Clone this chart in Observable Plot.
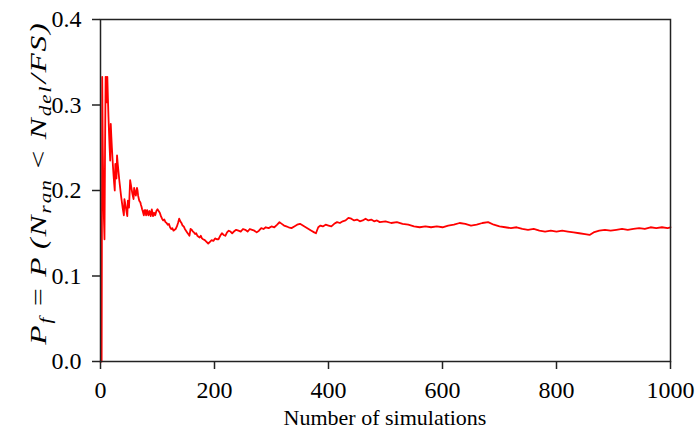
<!DOCTYPE html>
<html>
<head>
<meta charset="utf-8">
<script src="https://cdn.jsdelivr.net/npm/d3@7"></script>
<script src="https://cdn.jsdelivr.net/npm/@observablehq/plot@0.6"></script>
<style>
  html, body { margin: 0; padding: 0; background: #fff; }
</style>
</head>
<body>
<div id="chart"></div>
<script>
// Number of simulations (x) and running failure probability (y)
const nSims = [
  0, 1, 2, 3, 4, 5, 6, 7, 8, 9, 10, 11, 12, 13, 14, 15, 16, 17, 18, 19,
  20, 21, 22, 23, 24, 25, 26, 27, 28, 29, 30, 31, 32, 33, 34, 35, 36, 37, 38, 39,
  40, 41, 42, 43, 44, 45, 46, 47, 48, 49, 50, 51, 52, 53, 54, 55, 56, 57, 58, 59,
  60, 61, 62, 64, 65, 66, 67, 68, 70, 71, 72, 73, 74, 76, 77, 78, 79, 80, 82, 84,
  86, 88, 90, 92, 94, 96, 98, 100, 102, 104, 106, 108, 110, 112, 114, 116, 118, 120, 122, 124,
  126, 128, 130, 132, 134, 136, 138, 140, 142, 144, 146, 148, 150, 152, 154, 156, 158, 160, 162, 164,
  166, 168, 170, 172, 174, 176, 178, 180, 183, 186, 189, 192, 195, 198, 201, 204, 207, 210, 213, 216,
  219, 222, 225, 228, 231, 234, 238, 242, 246, 250, 254, 258, 262, 266, 270, 274, 278, 282, 286, 290,
  295, 300, 305, 310, 314, 318, 322, 326, 330, 335, 340, 345, 350, 355, 360, 365, 370, 375, 378, 382,
  386, 390, 395, 400, 405, 410, 415, 420, 425, 430, 435, 440, 445, 450, 455, 460, 465, 470, 475, 480,
  485, 490, 500, 510, 520, 530, 540, 550, 560, 570, 580, 590, 600, 610, 620, 630, 640, 650, 660, 670,
  680, 690, 700, 710, 720, 730, 740, 750, 760, 770, 780, 790, 800, 810, 820, 830, 840, 850, 858, 865,
  875, 885, 895, 905, 915, 925, 935, 945, 955, 965, 975, 985, 995, 1000
];
const pf = [
  0, 0, 0, 0.333, 0.25, 0.2, 0.167, 0.143, 0.25, 0.333, 0.333, 0.303, 0.333, 0.308, 0.286, 0.267, 0.25, 0.235, 0.278, 0.263,
  0.25, 0.238, 0.227, 0.217, 0.208, 0.2, 0.231, 0.222, 0.214, 0.241, 0.233, 0.226, 0.219, 0.212, 0.206, 0.2, 0.194, 0.189, 0.184, 0.179,
  0.175, 0.171, 0.19, 0.186, 0.182, 0.178, 0.174, 0.17, 0.188, 0.184, 0.18, 0.196, 0.212, 0.208, 0.204, 0.2, 0.196, 0.193, 0.19, 0.203,
  0.2, 0.197, 0.194, 0.203, 0.2, 0.194, 0.191, 0.188, 0.186, 0.183, 0.181, 0.178, 0.176, 0.171, 0.177, 0.173, 0.177, 0.171, 0.177, 0.171,
  0.176, 0.17, 0.178, 0.17, 0.174, 0.171, 0.176, 0.178, 0.176, 0.174, 0.17, 0.167, 0.165, 0.166, 0.163, 0.162, 0.16, 0.161, 0.157, 0.155,
  0.156, 0.153, 0.154, 0.155, 0.158, 0.162, 0.167, 0.164, 0.162, 0.159, 0.158, 0.155, 0.153, 0.151, 0.149, 0.147, 0.155, 0.154, 0.152, 0.151,
  0.149, 0.15, 0.147, 0.146, 0.145, 0.147, 0.144, 0.143, 0.142, 0.14, 0.138, 0.14, 0.142, 0.141, 0.144, 0.143, 0.143, 0.147, 0.15, 0.148,
  0.147, 0.151, 0.153, 0.152, 0.15, 0.152, 0.154, 0.153, 0.152, 0.155, 0.154, 0.152, 0.155, 0.154, 0.153, 0.151, 0.153, 0.156, 0.155, 0.157,
  0.156, 0.158, 0.157, 0.16, 0.163, 0.161, 0.159, 0.158, 0.157, 0.156, 0.158, 0.16, 0.161, 0.159, 0.157, 0.155, 0.153, 0.151, 0.15, 0.157,
  0.159, 0.158, 0.16, 0.159, 0.158, 0.161, 0.163, 0.162, 0.164, 0.165, 0.168, 0.167, 0.165, 0.166, 0.164, 0.165, 0.167, 0.165, 0.166, 0.164,
  0.165, 0.163, 0.164, 0.162, 0.163, 0.161, 0.16, 0.158, 0.157, 0.158, 0.157, 0.158, 0.157, 0.159, 0.16, 0.162, 0.161, 0.159, 0.16, 0.162,
  0.163, 0.16, 0.158, 0.157, 0.156, 0.157, 0.155, 0.154, 0.155, 0.153, 0.152, 0.153, 0.152, 0.153, 0.152, 0.151, 0.15, 0.149, 0.148, 0.151,
  0.153, 0.154, 0.153, 0.154, 0.155, 0.154, 0.155, 0.156, 0.155, 0.157, 0.156, 0.157, 0.156, 0.157
];
const xTicks = [0, 200, 400, 600, 800, 1000];
const yTicks = [0.0, 0.1, 0.2, 0.3, 0.4];
const xLabel = "Number of simulations";

const data = nSims.map((n, i) => ({n, p: pf[i]}));

const FONT = "'Liberation Serif', 'Times New Roman', serif";
const AXIS = "#222";

const svg = Plot.plot({
  width: 696,
  height: 433,
  marginLeft: 100,
  marginRight: 26,
  marginTop: 19,
  marginBottom: 72,
  style: {fontFamily: FONT, fontSize: "24px", background: "#fff", color: "#000", overflow: "visible"},
  x: {domain: [0, 1000]},
  y: {domain: [0, 0.4]},
  marks: [
    Plot.line(data, {x: "n", y: "p", stroke: "#ff0000", strokeWidth: 1.8}),
    Plot.frame({stroke: AXIS, strokeWidth: 1.5}),
    Plot.axisX({ticks: xTicks, tickSize: 8, tickPadding: 11, tickFormat: d => String(d),
                label: null, stroke: AXIS, strokeWidth: 1.5, fill: "#000", fontSize: 24}),
    Plot.axisY({ticks: yTicks, tickSize: 8, tickPadding: 11, tickFormat: d3.format(".1f"),
                label: null, stroke: AXIS, strokeWidth: 1.5, fill: "#000", fontSize: 24})
  ]
});

document.getElementById("chart").appendChild(svg);
const root = d3.select(svg);

// x axis title
root.append("text")
  .attr("x", 385).attr("y", 425)
  .attr("text-anchor", "middle")
  .attr("font-family", FONT).attr("font-size", 22).attr("fill", "#000")
  .text(xLabel);

// y axis title (italic, with subscripts, math-like spacing)
const yt = root.append("text")
  .attr("transform", "translate(46,183) rotate(-90)")
  .attr("text-anchor", "middle")
  .attr("letter-spacing", 1.5)
  .attr("font-family", FONT).attr("font-size", 24).attr("font-style", "italic").attr("fill", "#000");
// [text, isSubscript, extra gap before (px)]
const parts = [
  ["P", false, 0], ["f", true, 0], ["=", false, 6], ["P", false, 6], ["(", false, 5], ["N", false, 0],
  ["ran", true, 0], ["<", false, 6], ["N", false, 6], ["del", true, 0], ["/FS)", false, 1]
];
let shifted = false;
for (const [t, sub, gap] of parts) {
  const ts = yt.append("tspan").text(t).attr("dx", gap);
  if (sub) { ts.attr("font-size", 16).attr("dy", shifted ? 0 : 5); shifted = true; }
  else { if (shifted) ts.attr("dy", -5); shifted = false; }
}
// stretch slightly along its length so the title spans the same extent as in the reference
const w = yt.node().getBBox().width;
const s = w > 0 ? 325 / w : 1;
yt.attr("transform", `translate(46,183) rotate(-90) scale(${s},1)`);
</script>
</body>
</html>
